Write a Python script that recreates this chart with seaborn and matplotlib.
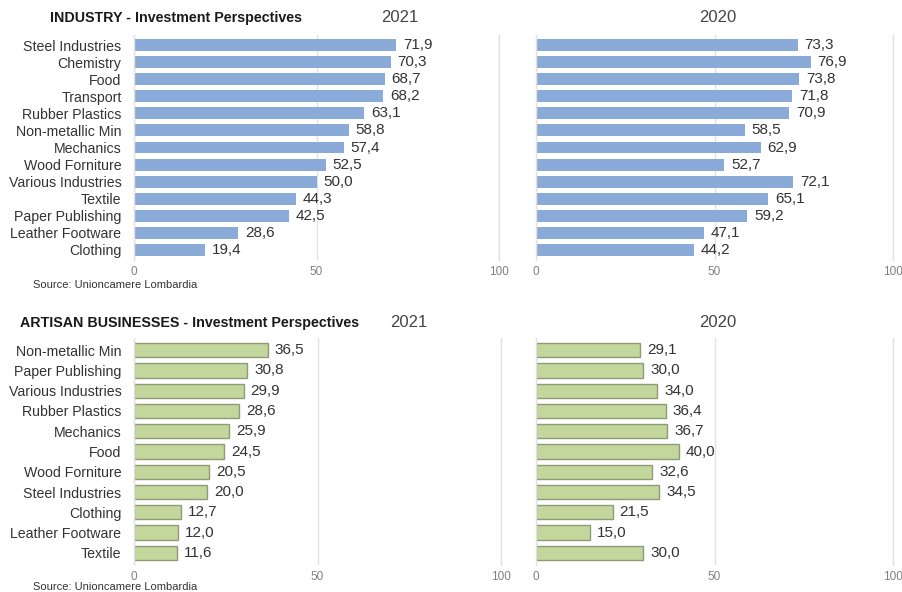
import matplotlib
matplotlib.use("Agg")
import matplotlib.pyplot as plt
import seaborn as sns
import pandas as pd

# Industry survey: share of firms planning investments (%)
industry_sectors = ["Steel Industries", "Chemistry", "Food", "Transport", "Rubber Plastics",
                    "Non-metallic Min", "Mechanics", "Wood Forniture", "Various Industries",
                    "Textile", "Paper Publishing", "Leather Footware", "Clothing"]
industry_2021 = [71.9, 70.3, 68.7, 68.2, 63.1, 58.8, 57.4, 52.5, 50.0, 44.3, 42.5, 28.6, 19.4]
industry_2020 = [73.3, 76.9, 73.8, 71.8, 70.9, 58.5, 62.9, 52.7, 72.1, 65.1, 59.2, 47.1, 44.2]

# Artisan businesses survey
artisan_sectors = ["Non-metallic Min", "Paper Publishing", "Various Industries", "Rubber Plastics",
                   "Mechanics", "Food", "Wood Forniture", "Steel Industries", "Clothing",
                   "Leather Footware", "Textile"]
artisan_2021 = [36.5, 30.8, 29.9, 28.6, 25.9, 24.5, 20.5, 20.0, 12.7, 12.0, 11.6]
artisan_2020 = [29.1, 30.0, 34.0, 36.4, 36.7, 40.0, 32.6, 34.5, 21.5, 15.0, 30.0]

x_ticks = [0, 50, 100]

sns.set_theme(style="white")
plt.rcParams["font.family"] = ["Liberation Sans", "DejaVu Sans"]

W, H = 902, 592
fig = plt.figure(figsize=(W / 100, H / 100), dpi=100)
fig.patch.set_facecolor("white")

BLUE = "#8aabd8"
GREEN = "#c3d69b"
GREEN_EDGE = "#8f9b78"
GRID = "#e2e2e2"
TEXT = "#333333"
TICK = "#808080"


def px_axes(x0, x1, y_top, y_bot):
    return fig.add_axes([x0 / W, 1 - y_bot / H, (x1 - x0) / W, (y_bot - y_top) / H])


def panel(ax, cats, vals, color, edge, show_labels):
    df = pd.DataFrame({"sector": cats, "value": vals})
    sns.barplot(data=df, x="value", y="sector", order=cats, orient="h", color=color,
                saturation=1, width=0.7, ax=ax,
                edgecolor=edge if edge else color, linewidth=1 if edge else 0)
    n = len(cats)
    ax.set_xlim(0, 100)
    ax.set_ylim(n - 0.4, -0.6)
    ax.set_xticks(x_ticks)
    ax.set_xticklabels([str(t) for t in x_ticks])
    ax.xaxis.grid(True, color=GRID, linewidth=1)
    ax.yaxis.grid(False)
    ax.set_axisbelow(True)
    for s in ["top", "bottom"]:
        ax.spines[s].set_visible(False)
    for s in ["left", "right"]:
        ax.spines[s].set_color(GRID)
        ax.spines[s].set_linewidth(1)
    ax.tick_params(axis="x", length=0, pad=4, labelsize=8.5, labelcolor=TICK)
    ax.tick_params(axis="y", length=0, pad=9, labelsize=10.2, labelcolor=TEXT)
    if not show_labels:
        ax.set_yticklabels([])
    ax.set_xlabel("")
    ax.set_ylabel("")
    ax.set_facecolor("none")
    for i, v in enumerate(vals):
        ax.annotate(f"{v:.1f}".replace(".", ","), xy=(v, i), xytext=(5, 0),
                    textcoords="offset points", va="center", ha="left",
                    fontsize=11, color=TEXT)


# Industry panels
ax1 = px_axes(134, 499, 35, 260)
panel(ax1, industry_sectors, industry_2021, BLUE, None, True)
ax2 = px_axes(536, 893, 35, 260)
panel(ax2, industry_sectors, industry_2020, BLUE, None, False)

# Artisan panels
ax3 = px_axes(134, 501, 338, 565)
panel(ax3, artisan_sectors, artisan_2021, GREEN, GREEN_EDGE, True)
ax4 = px_axes(536, 893, 338, 565)
panel(ax4, artisan_sectors, artisan_2020, GREEN, GREEN_EDGE, False)


def ftext(x, y, s, **kw):
    fig.text(x / W, 1 - y / H, s, **kw)


ftext(50, 18, "INDUSTRY - Investment Perspectives", ha="left", va="center",
      fontsize=10.3, fontweight="bold", color="#1a1a1a")
ftext(400, 18, "2021", ha="center", va="center", fontsize=12, color="#444444")
ftext(718, 18, "2020", ha="center", va="center", fontsize=12, color="#444444")
ftext(33, 285, "Source: Unioncamere Lombardia", ha="left", va="center",
      fontsize=8, color=TEXT)

ftext(20, 323, "ARTISAN BUSINESSES - Investment Perspectives", ha="left", va="center",
      fontsize=10.3, fontweight="bold", color="#1a1a1a")
ftext(409, 322, "2021", ha="center", va="center", fontsize=12, color="#444444")
ftext(718, 322, "2020", ha="center", va="center", fontsize=12, color="#444444")
ftext(33, 587, "Source: Unioncamere Lombardia", ha="left", va="center",
      fontsize=8, color=TEXT)

fig.savefig("out.png", dpi=100, facecolor="white")
